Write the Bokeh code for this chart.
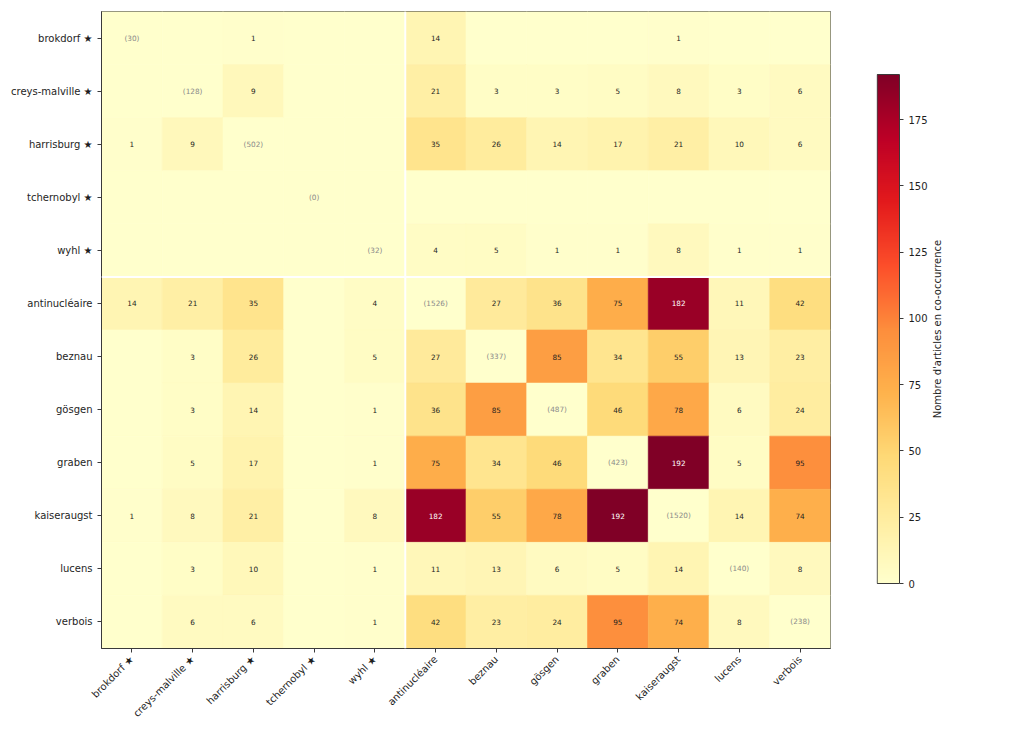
import math
import numpy as np
from bokeh.plotting import figure
from bokeh.models import (ColumnDataSource, FactorRange, LinearColorMapper, Span,
                          FixedTicker)
from bokeh.transform import transform
from bokeh.layouts import row
from bokeh.palettes import YlOrRd9
from bokeh.core.properties import value
from bokeh.embed import file_html
from bokeh.resources import INLINE

# Terms: event sites (starred) first, then Swiss sites / themes
event_terms = ["brokdorf ★", "creys-malville ★", "harrisburg ★", "tchernobyl ★", "wyhl ★"]
other_terms = ["antinucléaire", "beznau", "gösgen", "graben", "kaiseraugst", "lucens", "verbois"]
terms = event_terms + other_terms

# Number of articles mentioning each term (diagonal)
term_totals = [30, 128, 502, 0, 32, 1526, 337, 487, 423, 1520, 140, 238]

# Co-occurrence counts, one row per term (diagonal entries ignored)
row_brokdorf      = [0, 0, 1, 0, 0, 14, 0, 0, 0, 1, 0, 0]
row_creys         = [0, 0, 9, 0, 0, 21, 3, 3, 5, 8, 3, 6]
row_harrisburg    = [1, 9, 0, 0, 0, 35, 26, 14, 17, 21, 10, 6]
row_tchernobyl    = [0, 0, 0, 0, 0, 0, 0, 0, 0, 0, 0, 0]
row_wyhl          = [0, 0, 0, 0, 0, 4, 5, 1, 1, 8, 1, 1]
row_antinucleaire = [14, 21, 35, 0, 4, 0, 27, 36, 75, 182, 11, 42]
row_beznau        = [0, 3, 26, 0, 5, 27, 0, 85, 34, 55, 13, 23]
row_gosgen        = [0, 3, 14, 0, 1, 36, 85, 0, 46, 78, 6, 24]
row_graben        = [0, 5, 17, 0, 1, 75, 34, 46, 0, 192, 5, 95]
row_kaiseraugst   = [1, 8, 21, 0, 8, 182, 55, 78, 192, 0, 14, 74]
row_lucens        = [0, 3, 10, 0, 1, 11, 13, 6, 5, 14, 0, 8]
row_verbois       = [0, 6, 6, 0, 1, 42, 23, 24, 95, 74, 8, 0]

rows = [row_brokdorf, row_creys, row_harrisburg, row_tchernobyl, row_wyhl,
        row_antinucleaire, row_beznau, row_gosgen, row_graben, row_kaiseraugst,
        row_lucens, row_verbois]

colorbar_ticks = [0, 25, 50, 75, 100, 125, 150, 175]
colorbar_title = "Nombre d'articles en co-occurrence"

FONT = "DejaVu Sans"
EDGE = "#3a3a3a"
INK = "#1e1e1e"
LABEL_SIZE = "10px"

# Layout (pixels)
FRAME_TOP, FRAME_BOTTOM = 11, 83          # borders around the heatmap frame
PAGE_H = 731
BAR_TOP, BAR_BOTTOM = 74, 583             # colour bar extent on the page

# 256-step YlOrRd ramp interpolated from the 9-class palette
base = np.array([tuple(int(h[i:i + 2], 16) for i in (1, 3, 5)) for h in YlOrRd9[::-1]],
                dtype=float)
pos = np.linspace(0, 1, len(base))
t = np.linspace(0, 1, 256)
ramp = np.stack([np.interp(t, pos, base[:, k]) for k in range(3)], axis=1)
palette = ["#%02x%02x%02x" % tuple(int(round(c)) for c in rgb) for rgb in ramp]

n = len(terms)
off_diag = [rows[i][j] for i in range(n) for j in range(n) if i != j]
vmax = max(off_diag)
mapper = LinearColorMapper(palette=palette, low=0, high=vmax)

xs, ys, cvals, texts, tcolors = [], [], [], [], []
for i in range(n):
    for j in range(n):
        xs.append(terms[j])
        ys.append(terms[i])
        if i == j:
            cvals.append(0)
            texts.append("(%d)" % term_totals[i])
            tcolors.append("#8a8a8a")
        else:
            v = rows[i][j]
            cvals.append(v)
            texts.append(str(v) if v > 0 else "")
            tcolors.append("white" if v > 0.6 * vmax else "#1e1e1e")

src = ColumnDataSource(dict(x=xs, y=ys, cval=cvals, text=texts, tcolor=tcolors))

# ---- heatmap ----
p = figure(width=832, height=PAGE_H,
           x_range=FactorRange(factors=terms),
           y_range=FactorRange(factors=list(reversed(terms))),
           toolbar_location=None, output_backend="svg",
           min_border_left=101, min_border_right=2,
           min_border_top=FRAME_TOP, min_border_bottom=FRAME_BOTTOM)

p.rect(x="x", y="y", width=1, height=1, source=src,
       fill_color=transform("cval", mapper),
       line_color=transform("cval", mapper), line_width=0.6)

p.text(x="x", y="y", text="text", source=src, text_color="tcolor",
       text_align="center", text_baseline="middle",
       text_font_size="7.3px", text_font=value(FONT))

# White separators between the event sites and the other terms
n_events = len(event_terms)
p.add_layout(Span(location=n_events, dimension="height",
                  line_color="white", line_width=2))
p.add_layout(Span(location=n - n_events, dimension="width",
                  line_color="white", line_width=2))

p.grid.visible = False
p.outline_line_color = EDGE
p.outline_line_width = 1
for ax in (p.xaxis, p.yaxis):
    ax.axis_line_color = EDGE
    ax.major_tick_line_color = EDGE
    ax.major_tick_out = 4
    ax.major_tick_in = 0
    ax.minor_tick_line_color = None
    ax.major_label_text_font = FONT
    ax.major_label_text_font_size = LABEL_SIZE
    ax.major_label_text_color = INK
    ax.major_label_standoff = 5
p.xaxis.major_label_orientation = math.pi / 4

# ---- colour bar ----
frame_h = PAGE_H - FRAME_TOP - FRAME_BOTTOM
px_per_unit = (BAR_BOTTOM - BAR_TOP) / vmax
y_lo = -(PAGE_H - FRAME_BOTTOM - BAR_BOTTOM) / px_per_unit
y_hi = vmax + (BAR_TOP - FRAME_TOP) / px_per_unit

cb = figure(width=98, height=PAGE_H, x_range=(-0.03, 1), y_range=(y_lo, y_hi),
            toolbar_location=None, output_backend="svg",
            x_axis_location=None, y_axis_location="right",
            min_border_left=44, min_border_right=28,
            min_border_top=FRAME_TOP, min_border_bottom=FRAME_BOTTOM)
grad = np.linspace(0, vmax, 256).reshape(-1, 1)
cb.image(image=[grad], x=0, y=0, dw=1, dh=vmax, color_mapper=mapper)
cb.rect(x=0.5, y=vmax / 2, width=1, height=vmax, fill_color=None,
        line_color=EDGE, line_width=1)
cb.grid.visible = False
cb.outline_line_color = None
cb.yaxis.bounds = (0, vmax)
cb.yaxis.ticker = FixedTicker(ticks=colorbar_ticks)
cb.yaxis.axis_line_color = EDGE
cb.yaxis.major_tick_line_color = EDGE
cb.yaxis.major_tick_out = 4
cb.yaxis.major_tick_in = 0
cb.yaxis.minor_tick_line_color = None
cb.yaxis.major_label_text_font = FONT
cb.yaxis.major_label_text_font_size = LABEL_SIZE
cb.yaxis.major_label_text_color = INK
cb.yaxis.major_label_standoff = 5

# ---- colour bar title (vertical, reads upward) ----
lf = figure(width=1024 - 832 - 98, height=PAGE_H, x_range=(0, 94), y_range=(0, 1),
            toolbar_location=None, output_backend="svg",
            x_axis_location=None, y_axis_location=None,
            min_border_left=0, min_border_right=0,
            min_border_top=FRAME_TOP, min_border_bottom=FRAME_BOTTOM)
lf.grid.visible = False
lf.outline_line_color = None
mid_bar = (BAR_TOP + BAR_BOTTOM) / 2
title_y = 1 - (mid_bar - FRAME_TOP) / frame_h
lf.text(x=[7], y=[title_y], text=[colorbar_title], angle=math.pi / 2,
        text_align="center", text_baseline="middle",
        text_font=value(FONT), text_font_size=LABEL_SIZE, text_color=INK)

layout = row(p, cb, lf, spacing=0)
open("out.html", "w").write(file_html(layout, INLINE))
